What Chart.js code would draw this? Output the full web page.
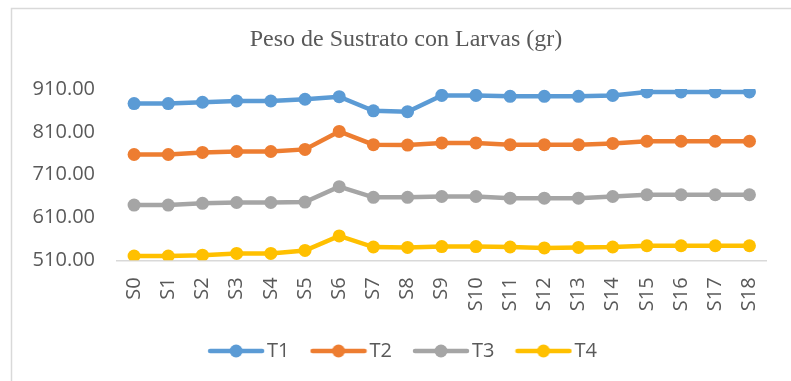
<!DOCTYPE html>
<html>
<head>
<meta charset="utf-8">
<script src="https://cdn.jsdelivr.net/npm/chart.js@4/dist/chart.umd.min.js"></script>
<style>
  html, body { margin: 0; padding: 0; background: #fff; overflow: hidden; }
  canvas { display: block; }
</style>
</head>
<body>
<canvas id="grafico" width="791" height="381"></canvas>
<script>
var semanas = ["S0", "S1", "S2", "S3", "S4", "S5", "S6", "S7", "S8", "S9",
    "S10", "S11", "S12", "S13", "S14", "S15", "S16", "S17", "S18"];

var t1 = [876, 876, 879, 882, 882, 886, 892, 859, 857, 895, 895, 893, 893, 893, 895, 903, 903, 903, 903];
var t2 = [757, 757, 762, 764, 764, 769, 811, 780, 779, 784, 784, 780, 780, 780, 783, 788, 788, 788, 788];
var t3 = [639, 639, 643, 645, 645, 646, 682, 657, 657, 659, 659, 655, 655, 655, 659, 663, 663, 663, 663];
var t4 = [520, 520, 522, 526, 526, 533, 567, 541, 540, 542, 542, 541, 539, 540, 541, 544, 544, 544, 544];

var nomes = ["T1", "T2", "T3", "T4"];
var cores = ["#5B9BD5", "#ED7D31", "#A5A5A5", "#FFC000"];
var series = [t1, t2, t3, t4];

var cinza = "#595959";

// legend marker: short line with a dot in the middle
function marcador(cor) {
    var c = document.createElement("canvas");
    c.width = 58;
    c.height = 16;
    var g = c.getContext("2d");
    g.strokeStyle = cor;
    g.lineWidth = 4.5;
    g.lineCap = "round";
    g.beginPath();
    g.moveTo(3, 8);
    g.lineTo(55, 8);
    g.stroke();
    g.fillStyle = cor;
    g.beginPath();
    g.arc(29, 8, 6.5, 0, Math.PI * 2);
    g.fill();
    return c;
}

// light frame around the chart
var moldura = {
    id: "moldura",
    beforeDraw: function (chart) {
        var ctx = chart.ctx;
        ctx.save();
        ctx.strokeStyle = "#d9d9d9";
        ctx.lineWidth = 1.5;
        ctx.strokeRect(11.5, 8.5, 900, 500);
        ctx.restore();
    }
};

var datasets = [];
for (var i = 0; i < series.length; i++) {
    datasets.push({
        label: nomes[i],
        data: series[i],
        borderColor: cores[i],
        backgroundColor: cores[i],
        borderWidth: 4.5,
        pointRadius: 6.5,
        pointBorderWidth: 0,
        pointHoverRadius: 6.5,
        tension: 0,
        fill: false
    });
}

var ctx = document.getElementById("grafico");

new Chart(ctx.getContext("2d"), {
    type: "line",
    data: {
        labels: semanas,
        datasets: datasets
    },
    plugins: [moldura],
    options: {
        responsive: false,
        animation: false,
        devicePixelRatio: 1,
        layout: {
            padding: { left: 21, right: 0, top: 9, bottom: 10 }
        },
        plugins: {
            title: {
                display: true,
                text: "Peso de Sustrato con Larvas (gr)",
                color: cinza,
                font: { family: "Liberation Serif", size: 24, weight: "normal" },
                padding: { top: 16.6, bottom: 34.6 }
            },
            legend: {
                position: "bottom",
                labels: {
                    usePointStyle: true,
                    pointStyleWidth: 42,
                    padding: 28,
                    color: cinza,
                    font: { family: "Open Sans", size: 20 },
                    generateLabels: function (chart) {
                        var itens = Chart.defaults.plugins.legend.labels.generateLabels(chart);
                        itens.forEach(function (it) {
                            it.pointStyle = marcador(cores[it.datasetIndex]);
                        });
                        return itens;
                    }
                }
            },
            tooltip: { enabled: false }
        },
        scales: {
            x: {
                offset: true,
                grid: { display: false, drawTicks: false },
                border: { display: true, color: "#d9d9d9", width: 1.5 },
                ticks: {
                    color: cinza,
                    font: { family: "Open Sans", size: 20 },
                    minRotation: 90,
                    maxRotation: 90,
                    padding: 17
                },
                afterFit: function (scale) {
                    scale.height = 52.7;
                }
            },
            y: {
                min: 510,
                max: 910,
                grid: { display: false, drawTicks: false },
                border: { display: false },
                ticks: {
                    stepSize: 100,
                    color: cinza,
                    font: { family: "Open Sans", size: 20 },
                    padding: 22,
                    callback: function (v) {
                        return v.toFixed(2);
                    }
                },
                afterFit: function (scale) {
                    scale.width = 96;
                }
            },
            // empty strip on the right so the plot ends short of the frame
            margem: {
                position: "right",
                min: 0,
                max: 1,
                grid: { display: false, drawTicks: false },
                border: { display: false },
                ticks: { display: false },
                afterFit: function (scale) {
                    scale.width = 21;
                }
            }
        }
    }
});
</script>
</body>
</html>
